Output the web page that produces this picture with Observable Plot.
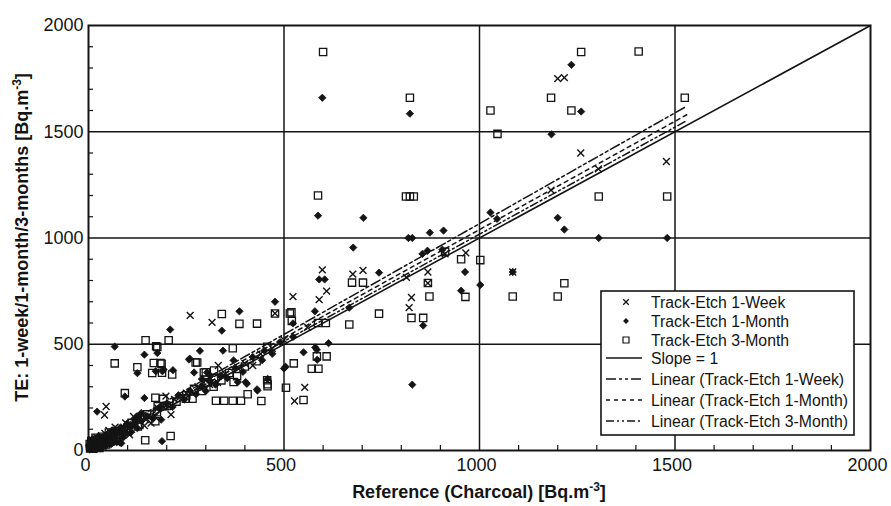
<!DOCTYPE html>
<html><head><meta charset="utf-8">
<script src="https://cdn.jsdelivr.net/npm/d3@7"></script>
<script src="https://cdn.jsdelivr.net/npm/@observablehq/plot@0.6"></script>
<style>
body{margin:0;background:#fff;}
#chart svg{font-family:"Liberation Sans",Arial,sans-serif;}
</style>
</head><body><div id="chart"></div>
<script>
// Track-Etch 1-Week (crosses): [reference, TE]
const weekPts = [
[1200,1750],[1217,1755],[1259,1400],[1304,1325],[1183,1225],[1478,1360],
[598,850],[676,830],[702,848],[609,750],[590,710],[826,720],[820,672],[868,840],[868,788],[813,815],[965,930],[1085,840],[912,925],
[523,724],[553,297],[527,233],[260,636],[316,603],[477,645],[383,385],[332,400],[440,455],[470,480],
[45,207],[41,167],[211,169],[177,200],[151,161],[143,117],[147,145],[160,129],[105,74],[198,256],
[5,8],[8,15],[10,25],[12,12],[15,30],[18,22],[20,40],[25,35],[28,50],[30,28],[35,45],[40,60],[45,38],[50,70],[55,55],[60,80],[65,65],[70,90],[75,100],[80,85],[90,110],[100,120],[110,100],[120,140],[130,150],[170,160],[190,210],[220,240],[250,270],[280,300],[300,330],[310,310],[330,320],[350,360],[400,410],[420,400],[500,520],[560,580],
[3,20],[6,35],[9,50],[14,45],[22,60],[26,15],[33,70],[38,25],[42,80],[52,95],[58,40],[68,110],[85,70],[95,130],[115,160]
];
// Track-Etch 1-Month (filled diamonds)
const monthPts = [
[598,1660],[822,1585],[1235,1815],[1260,1595],[1184,1488],[587,1105],[703,1095],[818,1000],[828,1000],[873,1025],[908,1035],[677,955],[1028,1120],[1045,1090],[1200,1095],[1217,1040],[1305,1000],[1480,1000],
[590,805],[604,805],[743,837],[579,655],[667,672],[856,588],[854,925],[867,940],[905,945],[963,840],[953,752],[1002,779],[1085,840],[523,535],[523,598],[550,462],[580,485],[584,474],[614,505],[585,427],[828,310],[504,394],
[341,564],[386,655],[477,700],[209,569],[67,489],[125,364],[143,451],[192,381],[285,469],[344,470],[259,432],[303,367],[312,351],[337,352],[371,424],[382,322],[405,314],[432,282],[458,337],[500,386],[22,183],[93,254],[143,247],[188,44],[186,145],[80,38],[84,34],[126,160],[135,176],[176,459],[172,373],[189,373],[216,378],[257,428],[270,367],[444,425],[402,322],[431,288],[290,336],
[3,5],[6,12],[10,8],[12,20],[15,14],[18,28],[22,18],[25,32],[28,25],[32,40],[36,30],[40,48],[45,55],[50,45],[55,62],[60,52],[65,75],[70,60],[75,85],[85,95],[95,80],[105,110],[115,125],[125,105],[135,140],[150,160],[165,150],[180,200],[200,220],[215,205],[230,260],[245,240],[260,280],[275,265],[290,300],[300,280],[310,330],[325,310],[340,350],[355,340],[375,390],[395,370],[420,440],[450,470],[470,455],[490,510],
[2,25],[5,40],[8,30],[11,55],[16,45],[20,5],[24,65],[30,10],[34,58],[44,20],[48,75],[58,30],[62,95],[72,40],[80,105],[88,60],[98,125],[108,85],[120,150]
];
// Track-Etch 3-Month (open squares)
const quarterPts = [
[600,1875],[822,1660],[1028,1600],[1046,1490],[1183,1660],[1260,1875],[1235,1600],[1305,1195],[1407,1878],[1525,1660],[1480,1195],[587,1200],[812,1195],[822,1195],[832,1195],
[674,790],[702,790],[587,600],[607,600],[667,593],[743,644],[826,624],[856,624],[868,788],[872,725],[912,935],[953,900],[1002,896],[964,723],[1085,725],[1200,725],[1217,787],[519,650],[520,610],[584,443],[609,443],[525,410],[505,295],[550,238],[571,385],[588,385],
[341,642],[386,596],[431,597],[477,645],[515,645],[146,519],[205,519],[67,410],[125,392],[176,487],[167,412],[184,412],[188,366],[214,358],[369,481],[278,414],[295,367],[371,322],[326,234],[347,234],[369,234],[390,234],[407,265],[442,233],[458,312],[458,302],[457,488],[145,48],[210,68],[93,270],[171,248],[191,243],[177,208],[194,208],[249,244],[266,244],[126,113],[171,138],[274,414],[300,368],[321,376],[457,331],[173,491],[163,365],[187,408],
[4,10],[8,18],[12,8],[16,25],[20,15],[25,30],[30,22],[35,42],[40,35],[48,55],[55,48],[62,70],[70,58],[78,90],[90,100],[100,90],[110,130],[130,120],[150,170],[175,180],[200,210],[225,230],[250,260],[270,290],[290,280],[305,320],[320,300],[340,330],[360,365],[380,350],[400,395],[430,420],
[3,30],[7,45],[13,38],[18,60],[28,12],[36,65],[45,28],[52,85],[66,45],[82,75]
];
// Reference and fitted lines (end points)
const slopeOne = [[0,0],[2000,2000]];
const fitWeek = [[0,25],[1530,1620]];
const fitMonth = [[0,20],[1530,1580]];
const fitQuarter = [[0,10],[1530,1552]];
// Axes
const tickVals = [0,500,1000,1500,2000];
const gridVals = [500,1000,1500];
const minorVals = [100,200,300,400,600,700,800,900,1100,1200,1300,1400,1600,1700,1800,1900];
const xTitle = "Reference (Charcoal) [Bq.m";
const yTitle = "TE: 1-week/1-month/3-months [Bq.m";
const legendItems = [
  {label:"Track-Etch 1-Week", kind:"times"},
  {label:"Track-Etch 1-Month", kind:"diamond"},
  {label:"Track-Etch 3-Month", kind:"square"},
  {label:"Slope = 1", kind:"solid"},
  {label:"Linear (Track-Etch 1-Week)", kind:"dashWeek"},
  {label:"Linear (Track-Etch 1-Month)", kind:"dashMonth"},
  {label:"Linear (Track-Etch 3-Month)", kind:"dashQuarter"}
];
const dashes = {solid:null, dashWeek:"10,3,3,3,3,3", dashMonth:"4,4", dashQuarter:"8,3,2,3,2,3"};
const ink = "#141414";

const X = d => d[0], Y = d => d[1];
const plot = Plot.plot({
  width: 891, height: 506,
  marginLeft: 88, marginRight: 21, marginTop: 25, marginBottom: 56,
  style: {fontFamily: "'Liberation Sans', Arial, sans-serif", fontSize: "18px", background: "white", color: ink},
  x: {domain: [0,2000], axis: null},
  y: {domain: [0,2000], axis: null},
  marks: [
    Plot.ruleX(gridVals, {stroke: ink, strokeWidth: 1.5}),
    Plot.ruleY(gridVals, {stroke: ink, strokeWidth: 1.5}),
    Plot.ruleX(minorVals, {x: d => d, y1: 0, y2: 24, stroke: ink, strokeWidth: 1.2}),
    Plot.ruleY(minorVals, {y: d => d, x1: 0, x2: 13, stroke: ink, strokeWidth: 1.2}),
    Plot.axisX(tickVals, {tickSize: 0, tickPadding: 8, label: null, fontSize: 18, tickFormat: d => String(d), dx: -3}),
    Plot.axisY(tickVals, {tickSize: 0, tickPadding: 5, label: null, fontSize: 18, tickFormat: d => String(d)}),
    Plot.line(slopeOne, {x: X, y: Y, stroke: ink, strokeWidth: 1.6}),
    Plot.line(fitWeek, {x: X, y: Y, stroke: ink, strokeWidth: 1.5, strokeDasharray: dashes.dashWeek}),
    Plot.line(fitMonth, {x: X, y: Y, stroke: ink, strokeWidth: 1.5, strokeDasharray: dashes.dashMonth}),
    Plot.line(fitQuarter, {x: X, y: Y, stroke: ink, strokeWidth: 1.5, strokeDasharray: dashes.dashQuarter}),
    Plot.dot(quarterPts, {x: X, y: Y, symbol: "square", r: 4.1, fill: "none", stroke: ink, strokeWidth: 1.3}),
    Plot.dot(monthPts, {x: X, y: Y, symbol: "diamond2", r: 3.3, fill: ink, stroke: ink, strokeWidth: 0.8}),
    Plot.dot(weekPts, {x: X, y: Y, symbol: "times", r: 3.2, stroke: ink, strokeWidth: 1.4}),
    Plot.frame({stroke: ink, strokeWidth: 2})
  ]
});
document.getElementById("chart").appendChild(plot);

const svg = d3.select(plot);
const sx = plot.scale("x"), sy = plot.scale("y");
const cx = (sx.range[0] + sx.range[1]) / 2, cy = (sy.range[0] + sy.range[1]) / 2;

// axis titles
const xt = svg.append("text").attr("x", cx).attr("y", 498).attr("text-anchor", "middle")
  .attr("font-weight", "bold").attr("font-size", 18).attr("fill", ink);
xt.append("tspan").text(xTitle);
xt.append("tspan").attr("dy", -7).attr("font-size", 12).text("-3");
xt.append("tspan").attr("dy", 7).text("]");

const yt = svg.append("text").attr("transform", `translate(28,${cy}) rotate(-90)`).attr("text-anchor", "middle")
  .attr("font-weight", "bold").attr("font-size", 18).attr("fill", ink);
yt.append("tspan").text(yTitle);
yt.append("tspan").attr("dy", -7).attr("font-size", 12).text("-3");
yt.append("tspan").attr("dy", 7).text("]");

// legend
const lg = svg.append("g").attr("text-anchor", "start");
lg.append("rect").attr("x", 601).attr("y", 291).attr("width", 253).attr("height", 144)
  .attr("fill", "white").attr("stroke", ink).attr("stroke-width", 1.6);
const rowsY = [302, 321, 340, 358, 379, 400, 421];
legendItems.forEach((it, i) => {
  const y = rowsY[i];
  if (it.kind === "times") {
    lg.append("path").attr("d", d3.symbol(d3.symbolTimes, 22)()).attr("transform", `translate(626,${y})`)
      .attr("stroke", ink).attr("stroke-width", 1.3).attr("fill", "none");
  } else if (it.kind === "diamond") {
    lg.append("path").attr("d", d3.symbol(d3.symbolDiamond2, 22)()).attr("transform", `translate(626,${y})`)
      .attr("fill", ink);
  } else if (it.kind === "square") {
    lg.append("path").attr("d", d3.symbol(d3.symbolSquare, 36)()).attr("transform", `translate(626,${y})`)
      .attr("fill", "none").attr("stroke", ink).attr("stroke-width", 1.2);
  } else {
    lg.append("line").attr("x1", 606).attr("x2", 642).attr("y1", y).attr("y2", y)
      .attr("stroke", ink).attr("stroke-width", 1.5).attr("stroke-dasharray", dashes[it.kind]);
  }
  lg.append("text").attr("x", 651).attr("y", y + 5.5).attr("font-size", 15.8).attr("fill", ink)
    .attr("text-anchor", "start").text(it.label);
});
</script>
</body></html>
